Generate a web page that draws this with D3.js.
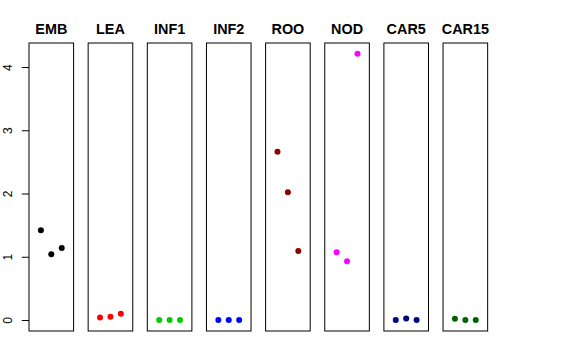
<!DOCTYPE html>
<html lang="en">
<head>
    <meta charset="UTF-8">
    <title>Panels</title>
    <style>
        body { margin: 0; background: #fff; }
        svg { display: block; font-family: "Liberation Sans", Arial, sans-serif; }
    </style>
</head>
<body>
    <div id="chart"></div>
    <script src="https://d3js.org/d3.v7.min.js"></script>
    <script>
        const tissues = ['EMB', 'LEA', 'INF1', 'INF2', 'ROO', 'NOD', 'CAR5', 'CAR15']
        const colors = ['#000000', '#ff0000', '#00cd00', '#0000ff', '#8b0000', '#ff00ff', '#000080', '#006400']
        const emb = [1.42, 1.04, 1.14]
        const lea = [0.04, 0.05, 0.10]
        const inf1 = [0.0, 0.0, 0.0]
        const inf2 = [0.0, 0.0, 0.0]
        const roo = [2.66, 2.02, 1.09]
        const nod = [1.07, 0.93, 4.21]
        const car5 = [0.0, 0.025, 0.0]
        const car15 = [0.02, 0.0, 0.0]
        const values = [emb, lea, inf1, inf2, roo, nod, car5, car15]
        const yTicks = [0, 1, 2, 3, 4]

        const width = 576
        const height = 360
        const margin = { top: 43, bottom: 331, left: 29 }
        const panelWidth = 44.6
        const pitch = 59.15

        const svg = d3.select('#chart')
            .append('svg')
            .attr('width', width)
            .attr('height', height)

        const yScale = d3.scaleLinear()
            .domain([-0.174, 4.38])
            .range([margin.bottom, margin.top])

        const panelScale = d3.scaleLinear()
            .domain([0, 1])
            .range([margin.left, margin.left + pitch])

        // y axis on the first panel only
        const yAxis = d3.axisLeft(yScale)
            .tickValues(yTicks)
            .tickFormat(d3.format('d'))
            .tickSize(7.2)
        const axisG = svg.append('g')
            .attr('transform', `translate(${margin.left}, 0)`)
            .call(yAxis)
        axisG.select('.domain').remove()
        axisG.selectAll('.tick text')
            .attr('font-size', 12)
            .attr('font-family', '"Liberation Sans", Arial, sans-serif')
            .attr('fill', '#000')
            .attr('x', 0)
            .attr('y', 0)
            .attr('dy', 0)
            .attr('text-anchor', 'middle')
            .attr('transform', 'translate(-17, 0) rotate(-90)')
        axisG.selectAll('line').attr('stroke', '#000')

        tissues.forEach((name, i) => {
            const x0 = panelScale(i)
            const xScale = d3.scaleLinear()
                .domain([-0.14, 4.14])
                .range([x0, x0 + panelWidth])
            const g = svg.append('g').attr('class', 'panel')

            g.append('rect')
                .attr('x', x0)
                .attr('y', margin.top)
                .attr('width', panelWidth)
                .attr('height', margin.bottom - margin.top)
                .attr('fill', 'none')
                .attr('stroke', '#000')
                .attr('stroke-width', 1)

            g.append('text')
                .attr('x', x0 + panelWidth / 2)
                .attr('y', 34)
                .attr('text-anchor', 'middle')
                .attr('font-size', 14.4)
                .attr('font-weight', 'bold')
                .text(name)

            g.selectAll('circle')
                .data(values[i])
                .join('circle')
                .attr('cx', (d, j) => xScale(j + 1))
                .attr('cy', d => yScale(d))
                .attr('r', 3)
                .attr('fill', colors[i])
        })
    </script>
</body>
</html>
